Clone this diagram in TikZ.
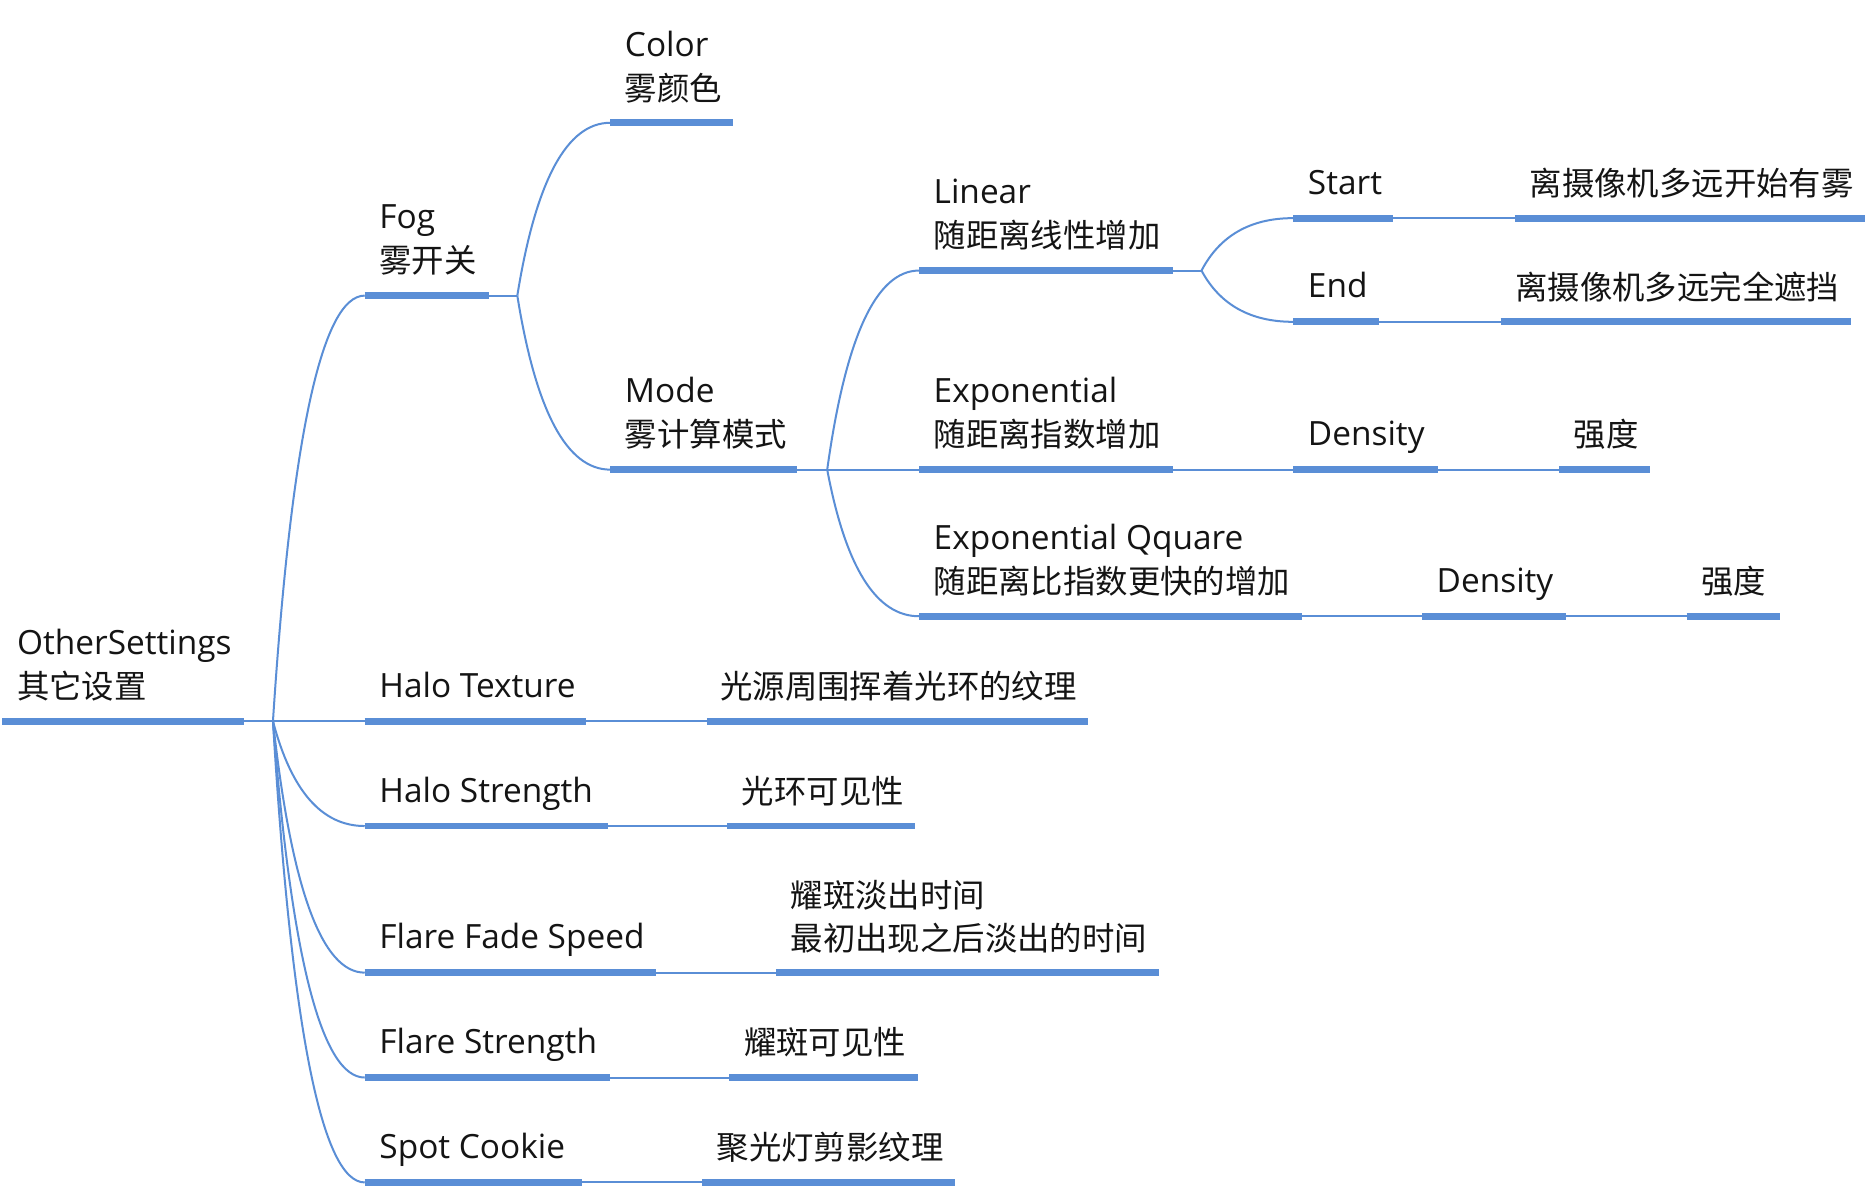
\documentclass[tikz,border=0pt]{standalone}
\usepackage{fontspec}
\setmainfont{Open Sans}
\newfontfamily\cjkfont{Noto Sans CJK SC}
\usetikzlibrary{calc}
\definecolor{mmblue}{HTML}{5A8ED6}
\definecolor{mmtext}{HTML}{141414}
\tikzset{
  under/.style={draw=mmblue,line width=3.4pt,line cap=butt},
  link/.style={draw=mmblue,line width=1pt},
  branch/.style={to path={let \p1=(\tikztostart), \p2=(\tikztotarget) in
     .. controls (\x1+0.2*\x2-0.2*\x1, \y1+0.6667*\y2-0.6667*\y1) and (\x2-0.4667*\x2+0.4667*\x1, \y2) .. (\tikztotarget)}},
  lat/.style={anchor=base west,inner sep=0pt,text=mmtext,font=\fontsize{16.7}{20}\selectfont},
  han/.style={anchor=base west,inner sep=0pt,text=mmtext,font=\cjkfont\fontsize{16.2}{20}\selectfont},
}
\newcommand\mmTopic[4]{\coordinate (#1L) at (#2,#4); \coordinate (#1R) at (#3,#4); \draw[under] (#1L) -- (#1R);}
\begin{document}
\begin{tikzpicture}[x=0.596pt,y=-0.596pt]
\useasboundingbox[fill=white] (0,0) rectangle (1568,1004);
% underlines
\mmTopic{root}{2}{205}{605}
\mmTopic{fog}{306}{410}{248}
\mmTopic{color}{512}{615}{103}
\mmTopic{mode}{512}{669}{394}
\mmTopic{linear}{771}{984}{227}
\mmTopic{start}{1085}{1169}{183}
\mmTopic{startv}{1271}{1565}{183}
\mmTopic{end}{1085}{1157}{270}
\mmTopic{endv}{1259}{1553}{270}
\mmTopic{expo}{771}{984}{394}
\mmTopic{densa}{1085}{1206}{394}
\mmTopic{stra}{1308}{1384}{394}
\mmTopic{expq}{771}{1092}{517}
\mmTopic{densb}{1193}{1314}{517}
\mmTopic{strb}{1415}{1493}{517}
\mmTopic{halot}{306}{492}{605}
\mmTopic{halotv}{593}{913}{605}
\mmTopic{halos}{306}{510}{693}
\mmTopic{halosv}{610}{768}{693}
\mmTopic{ffs}{306}{550}{816}
\mmTopic{ffsv}{651}{972}{816}
\mmTopic{fs}{306}{512}{904}
\mmTopic{fsv}{612}{770}{904}
\mmTopic{sc}{306}{488}{992}
\mmTopic{scv}{589}{801}{992}
% junctions
\coordinate (jroot) at (229,605);
\coordinate (jfog) at (434,248);
\coordinate (jmode) at (694,394);
\coordinate (jlin) at (1008,227);
% connectors
\draw[link] (rootR) -- (jroot);
\foreach \c in {fog,halot,halos,ffs,fs,sc} \draw[link] (jroot) to[branch] (\c L);
\draw[link] (fogR) -- (jfog);
\foreach \c in {color,mode} \draw[link] (jfog) to[branch] (\c L);
\draw[link] (modeR) -- (jmode);
\foreach \c in {linear,expo,expq} \draw[link] (jmode) to[branch] (\c L);
\draw[link] (linearR) -- (jlin);
\foreach \c in {start,end} \draw[link] (jlin) to[branch] (\c L);
\draw[link] (startR) -- (startvL);
\draw[link] (endR) -- (endvL);
\draw[link] (expoR) -- (densaL);
\draw[link] (densaR) -- (straL);
\draw[link] (expqR) -- (densbL);
\draw[link] (densbR) -- (strbL);
\draw[link] (halotR) -- (halotvL);
\draw[link] (halosR) -- (halosvL);
\draw[link] (ffsR) -- (ffsvL);
\draw[link] (fsR) -- (fsvL);
\draw[link] (scR) -- (scvL);
% texts
\node[lat] (rootA) at (14,549) {OtherSettings};
\node[han] (rootB) at (14,586) {其它设置};
\node[lat] (fogA) at (318,192) {Fog};
\node[han] (fogB) at (318,229) {雾开关};
\node[lat] (colorA) at (524,47) {Color};
\node[han] (colorB) at (524,84) {雾颜色};
\node[lat] (modeA) at (524,338) {Mode};
\node[han] (modeB) at (524,375) {雾计算模式};
\node[lat] (linearA) at (783,171) {Linear};
\node[han] (linearB) at (783,208) {随距离线性增加};
\node[lat] (startA) at (1097,163) {Start};
\node[han] (startvA) at (1283,164) {离摄像机多远开始有雾};
\node[lat] (endA) at (1097,250) {End};
\node[han] (endvA) at (1271,251) {离摄像机多远完全遮挡};
\node[lat] (expoA) at (783,338) {Exponential};
\node[han] (expoB) at (783,375) {随距离指数增加};
\node[lat] (densaA) at (1097,374) {Density};
\node[han] (straA) at (1320,375) {强度};
\node[lat] (expqA) at (783,461) {Exponential Qquare};
\node[han] (expqB) at (783,498) {随距离比指数更快的增加};
\node[lat] (densbA) at (1205,497) {Density};
\node[han] (strbA) at (1427,498) {强度};
\node[lat] (halotA) at (318,585) {Halo Texture};
\node[han] (halotvA) at (604,586) {光源周围挥着光环的纹理};
\node[lat] (halosA) at (318,673) {Halo Strength};
\node[han] (halosvA) at (622,674) {光环可见性};
\node[lat] (ffsA) at (318,796) {Flare Fade Speed};
\node[han] (ffsvA) at (663,761) {耀斑淡出时间};
\node[han] (ffsvB) at (663,797) {最初出现之后淡出的时间};
\node[lat] (fsA) at (318,884) {Flare Strength};
\node[han] (fsvA) at (624,885) {耀斑可见性};
\node[lat] (scA) at (318,972) {Spot Cookie};
\node[han] (scvA) at (601,973) {聚光灯剪影纹理};
\end{tikzpicture}
\end{document}
